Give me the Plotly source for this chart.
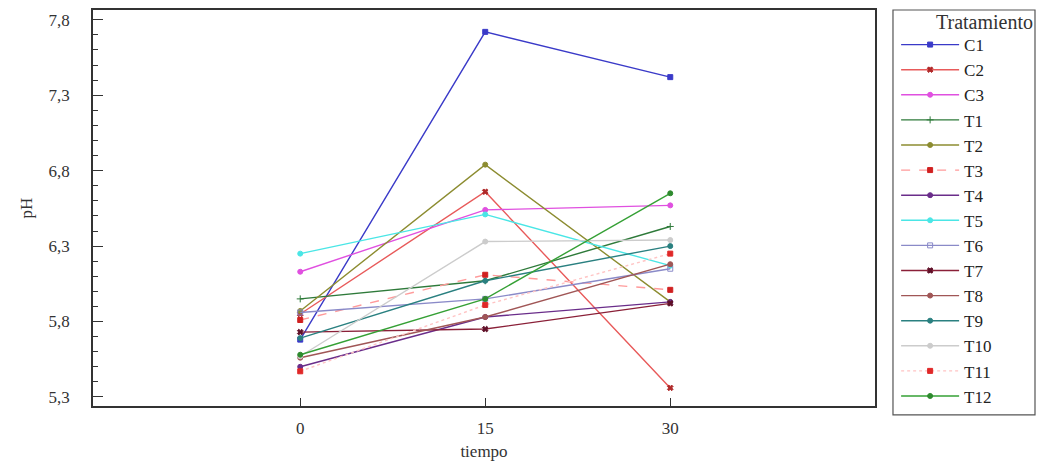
import plotly.graph_objects as go

tiempo = [0, 15, 30]
series_names = ["C1", "C2", "C3", "T1", "T2", "T3", "T4", "T5", "T6", "T7", "T8", "T9", "T10", "T11", "T12"]
C1 = [5.68, 7.72, 7.42]
C2 = [5.85, 6.66, 5.36]
C3 = [6.13, 6.54, 6.57]
T1 = [5.95, 6.07, 6.43]
T2 = [5.87, 6.84, 5.93]
T3 = [5.81, 6.11, 6.01]
T4 = [5.50, 5.83, 5.93]
T5 = [6.25, 6.51, 6.17]
T6 = [5.86, 5.95, 6.15]
T7 = [5.73, 5.75, 5.92]
T8 = [5.56, 5.83, 6.18]
T9 = [5.69, 6.07, 6.30]
T10 = [5.57, 6.33, 6.34]
T11 = [5.47, 5.91, 6.25]
T12 = [5.58, 5.95, 6.65]
values = [C1, C2, C3, T1, T2, T3, T4, T5, T6, T7, T8, T9, T10, T11, T12]

ytick_vals = [5.3, 5.8, 6.3, 6.8, 7.3, 7.8]
ytick_text = ["5,3", "5,8", "6,3", "6,8", "7,3", "7,8"]
xtick_vals = [0, 15, 30]

line_colors = ["#3a3ac8", "#e85a5a", "#e050e0", "#2e7a3a", "#8c8c30", "#ff9a9a", "#6a2d8a",
               "#4ae6e6", "#8a8ac8", "#8a2038", "#a05656", "#2a8080", "#cccccc", "#ffc4c4", "#35a035"]
marker_colors = ["#3a3ac8", "#b02828", "#e050e0", "#2e7a3a", "#8c8c30", "#d02020", "#6a2d8a",
                 "#4ae6e6", "#8a8ac8", "#601028", "#a05656", "#2a8080", "#cccccc", "#e02828", "#2e8a2e"]
markers = ["square", "x", "circle", "cross-thin-open", "circle", "square", "circle",
           "circle", "square-open", "x", "circle", "circle", "circle", "square", "circle"]
dashes = ["solid", "solid", "solid", "solid", "solid", "dash", "solid",
          "solid", "solid", "solid", "solid", "solid", "solid", "dot", "solid"]

fig = go.Figure()
for name, v, lc, mc, m, d in zip(series_names, values, line_colors, marker_colors, markers, dashes):
    fig.add_trace(go.Scatter(
        x=tiempo, y=v, name=name, mode="lines+markers",
        line=dict(color=lc, width=1.4, dash=d),
        marker=dict(symbol=m, size=5, color=mc, line=dict(color=mc, width=1)),
    ))

font_family = "Liberation Serif"
txt = "#333333"
fig.update_layout(
    width=1040, height=468,
    margin=dict(l=93, r=165, t=8, b=62),
    paper_bgcolor="white", plot_bgcolor="white",
    font=dict(family=font_family, size=17, color=txt),
    showlegend=True,
    legend=dict(
        font=dict(family=font_family, size=17, color="#222222"),
        x=1.027, xanchor="left", y=0.957, yanchor="top",
        borderwidth=0, bgcolor="rgba(0,0,0,0)",
        itemwidth=58, maxheight=440,
    ),
    shapes=[dict(type="rect", xref="paper", yref="paper",
                 x0=1.023, x1=1.2046, y0=-0.0226, y1=1.0,
                 line=dict(color="#555555", width=1.2), fillcolor="rgba(0,0,0,0)", layer="below")],
    annotations=[dict(text="Tratamiento", xref="paper", yref="paper",
                      x=1.2046, xanchor="right", y=1.003, yanchor="top", showarrow=False,
                      font=dict(family=font_family, size=20, color=txt))],
    xaxis=dict(
        range=[-16.8, 46.6], tickvals=xtick_vals, ticktext=[str(t) for t in xtick_vals],
        ticks="inside", ticklen=8, tickcolor=txt,
        showline=True, linecolor=txt, linewidth=1.5, mirror=True,
        showgrid=False, zeroline=False, ticklabelstandoff=6,
        title=dict(text="tiempo", font=dict(family=font_family, size=17, color=txt), standoff=8),
        tickfont=dict(family=font_family, size=17, color=txt),
    ),
    yaxis=dict(
        range=[5.24, 7.865], tickvals=ytick_vals, ticktext=ytick_text,
        ticks="inside", ticklen=10, tickcolor=txt,
        minor=dict(dtick=0.1, tick0=5.3, ticks="inside", ticklen=5, tickcolor=txt, showgrid=False),
        showline=True, linecolor=txt, linewidth=1.5, mirror=True,
        showgrid=False, zeroline=False, ticklabelstandoff=18,
        title=dict(text="pH", font=dict(family=font_family, size=17, color=txt), standoff=12),
        tickfont=dict(family=font_family, size=17, color=txt),
    ),
)

fig.write_html("out.html")
